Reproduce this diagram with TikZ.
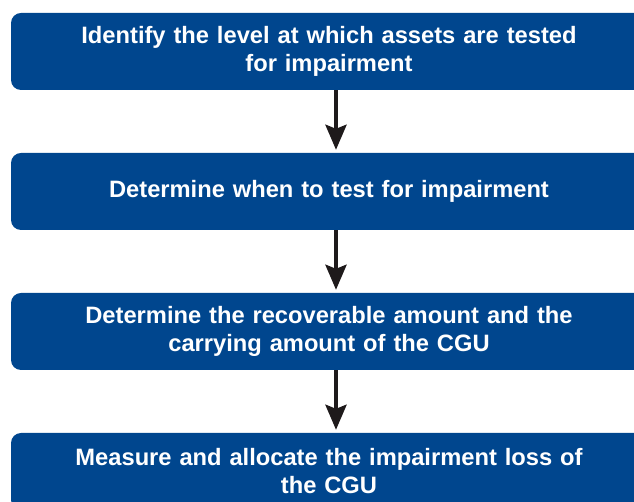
\documentclass[tikz,border=0pt]{standalone}
\usepackage{fontspec}
\setmainfont{Liberation Sans}
\usetikzlibrary{arrows.meta}
\definecolor{boxblue}{RGB}{0,70,142}
\definecolor{arrowblack}{RGB}{30,26,27}
\tikzset{
  stepbox/.style={fill=boxblue, rounded corners=10pt, minimum width=636pt, minimum height=77pt,
    text width=610pt, align=center, text=white, inner sep=0pt,
    font=\fontsize{23.7}{28}\selectfont\bfseries},
  flowarrow/.style={draw=arrowblack, line width=4pt,
    -{Stealth[length=25pt, width=21pt, inset=4pt]}}
}
\begin{document}
\begin{tikzpicture}[x=1pt,y=1pt]
\useasboundingbox (0,0) rectangle (634,502);
\clip (0,0) rectangle (634,502);
\node[stepbox] (b1) at (329,450.5) {Identify the level at which assets are tested\\for impairment};
\node[stepbox] (b2) at (329,310.5) {Determine when to test for impairment};
\node[stepbox] (b3) at (329,170.5) {Determine the recoverable amount and the\\carrying amount of the CGU};
\node[stepbox] (b4) at (329,30.5) {Measure and allocate the impairment loss of\\the CGU};
\draw[flowarrow] ([xshift=7pt]b1.south) -- ([xshift=7pt,yshift=3pt]b2.north);
\draw[flowarrow] ([xshift=7pt]b2.south) -- ([xshift=7pt,yshift=3pt]b3.north);
\draw[flowarrow] ([xshift=7pt]b3.south) -- ([xshift=7pt,yshift=3pt]b4.north);
\end{tikzpicture}
\end{document}
